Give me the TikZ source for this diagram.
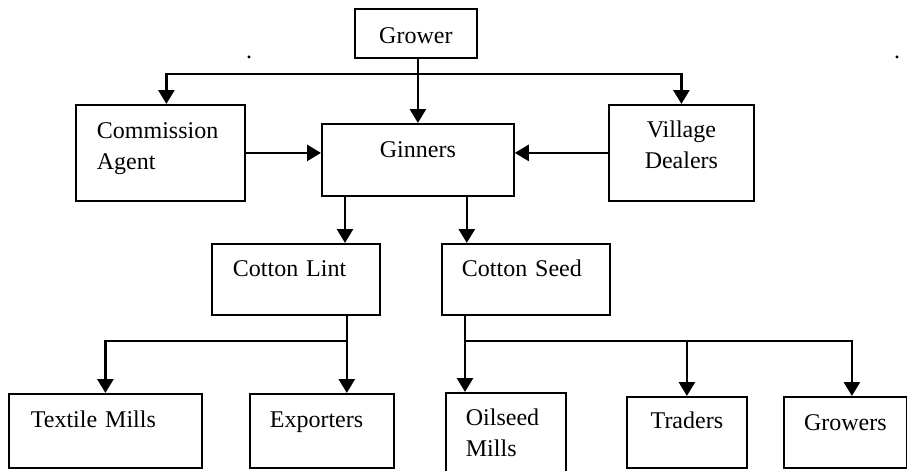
\documentclass[tikz,border=0pt]{standalone}
\usepackage{fontspec}
\setmainfont{Liberation Serif}
\usetikzlibrary{arrows.meta}

\tikzset{
  box/.style={draw, line width=0.9pt, anchor=north west, inner ysep=0pt},
  lbox/.style={box, align=left},
  cbox/.style={box, align=center, inner xsep=0pt},
}

\begin{document}
\begin{tikzpicture}[x=0.5pt,y=-0.5pt,>={Triangle[width=8pt,length=7pt]},line width=1.3pt,
  font=\fontsize{12}{15.5}\selectfont]

  \useasboundingbox (0,0) rectangle (907,471);

  \node[cbox, text width=61pt, text height=17.5pt, text depth=7pt] (grower) at (354,8) {Grower};
  \node[lbox, inner xsep=10.5pt, text width=63.5pt, text height=17pt, text depth=31pt] (agent) at (75,104) {Commission\\Agent};
  \node[cbox, text width=96pt, text height=17pt, text depth=19pt] (ginners) at (321,123) {Ginners};
  \node[cbox, text width=72.5pt, text height=16.5pt, text depth=31.5pt] (dealers) at (608,104) {Village\\Dealers};

  \node[lbox, inner xsep=10.5pt, text width=63pt, text height=16.5pt, text depth=19pt] (lint) at (211,243) {Cotton Lint};
  \node[lbox, inner xsep=10pt, text width=64pt, text height=16.5pt, text depth=19pt] (seed) at (441,243) {Cotton Seed};

  \node[lbox, inner xsep=11pt, text width=74.5pt, text height=17pt, text depth=20pt] (textile) at (8,393) {Textile Mills};
  \node[lbox, inner xsep=10pt, text width=52pt, text height=17pt, text depth=20pt] (export) at (249,393) {Exporters};
  \node[lbox, inner xsep=10pt, text width=40pt, text height=16.5pt, text depth=24.5pt] (oilseed) at (445,392) {Oilseed\\Mills};
  \node[cbox, text width=60pt, text height=16pt, text depth=19.5pt] (traders) at (626,396) {Traders};
  \node[cbox, text width=61.5pt, text height=17pt, text depth=18.5pt] (growers) at (783,396) {Growers};

  \node[anchor=base, inner sep=0pt] (dotl) at (249,59) {.};
  \node[anchor=base, inner sep=0pt] (dotr) at (897,59) {.};

  \draw[->] ([xshift=1pt]grower.south) -- ([xshift=1pt]grower.south |- ginners.north);
  \coordinate (gsplit) at ([yshift=-7.5pt]grower.south);
  \draw[->] (gsplit) -| ([xshift=3pt]agent.north);
  \draw[->] (gsplit) -| (dealers.north);
  \draw[->] (agent.east) -- (agent.east -| ginners.west);
  \draw[->] (dealers.west) -- (dealers.west -| ginners.east);

  \coordinate (g1) at ([xshift=12pt]ginners.south west);
  \coordinate (g2) at ([xshift=-24pt]ginners.south east);
  \draw[->] (g1) -- (g1 |- lint.north);
  \draw[->] (g2) -- (g2 |- seed.north);

  \coordinate (l1) at ([xshift=-17pt]lint.south east);
  \coordinate (lsplit) at ([yshift=-12.5pt]l1);
  \draw[->] (l1) -- (l1 |- export.north);
  \draw[->] (lsplit) -| (textile.north);

  \coordinate (s1) at ([xshift=12pt]seed.south west);
  \coordinate (ssplit) at ([yshift=-12.5pt]s1);
  \draw[->] (s1) -- (s1 |- oilseed.north);
  \draw[->] (ssplit) -| (traders.north);
  \draw[->] (ssplit) -| ([xshift=3.25pt]growers.north);

\end{tikzpicture}
\end{document}
